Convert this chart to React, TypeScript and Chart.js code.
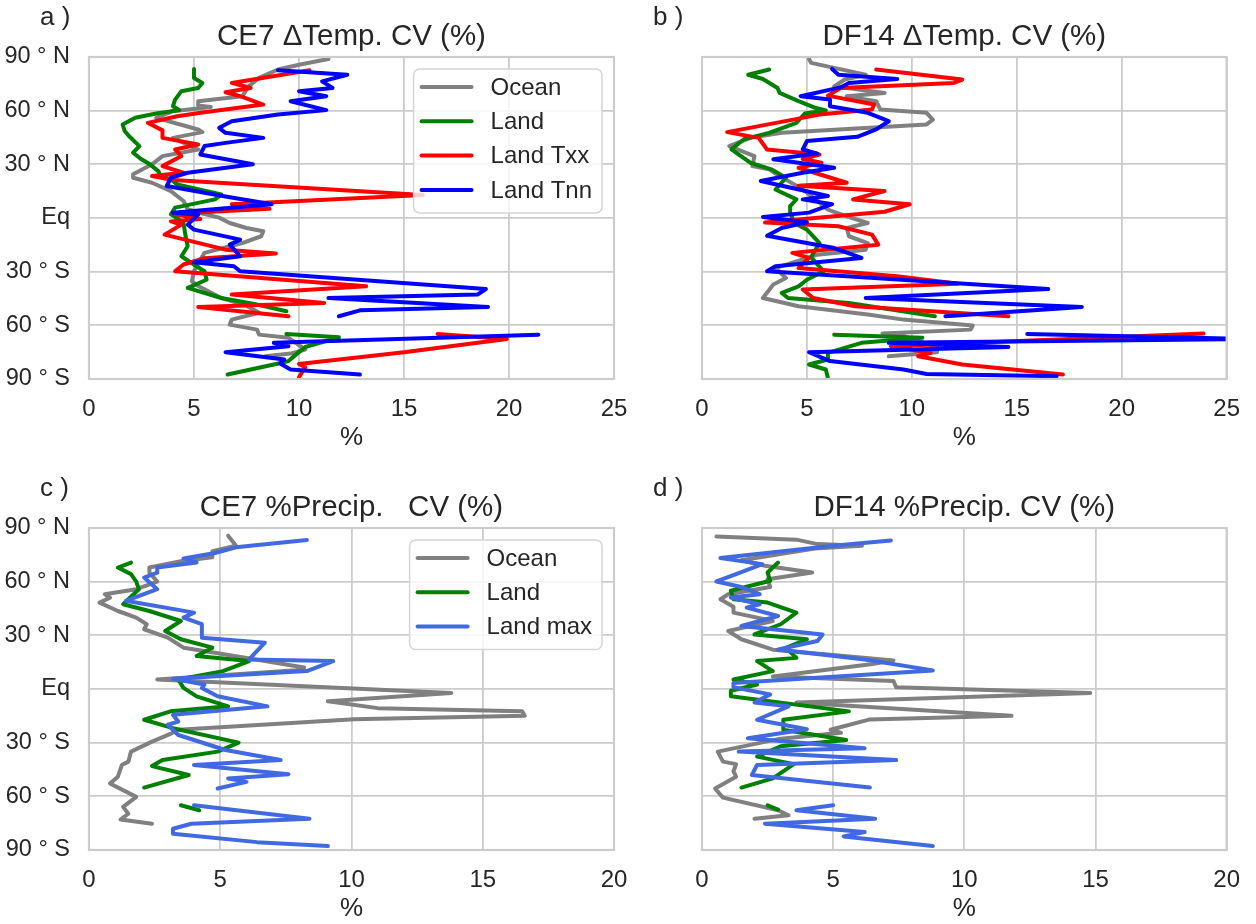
import React, { useEffect, useRef } from "react";
import { Chart, registerables } from "chart.js";
Chart.register(...registerables);

type P = [number, number] | null;

const FONT = '"Liberation Sans", Arial, Helvetica, sans-serif';
const TXT = "#262626";
const GRID = "#cccccc";

const latTicks = [90, 60, 30, 0, -30, -60, -90];
const latLabels = ["90 ° N", "60 ° N", "30 ° N", "Eq", "30 ° S", "60 ° S", "90 ° S"];

const tempNames = ["Ocean", "Land", "Land Txx", "Land Tnn"];
const tempColors = ["#808080", "#008000", "#ff0000", "#0000ff"];
const precipNames = ["Ocean", "Land", "Land max"];
const precipColors = ["#808080", "#008000", "#4169e1"];

// Panel a: CE7 ΔTemp. CV (%)  — [value %, latitude]
const aOcean: P[] = [
  [11.4, 88.9], [10.0, 85.7], [9.0, 83], [8.1, 78.3], [7.6, 73.6], [7.3, 68], [5.2, 65.3], [5.2, 62.9],
  [5.8, 62.1], [4.0, 59.7], [3.2, 56], [5.2, 49.5], [5.4, 48], [4.0, 44.8], [5.2, 38.3], [3.5, 34.6],
  [3.0, 30], [2.1, 24.4], [2.1, 22.5], [3.0, 19.7], [3.9, 15], [4.5, 9.5], [4.7, 4.9], [5.3, 2.8],
  [6.2, 0.2], [6.7, -2.8], [7.5, -5.6], [8.3, -7.4], [8.2, -10.2], [7.3, -14], [5.5, -19.5], [5.3, -23.3],
  [5.0, -29.8], [4.9, -35.4], [5.2, -38], [6.3, -44.7], [7.5, -49], [8.1, -53], [6.8, -56.8], [6.7, -59.6],
  [8.0, -62.4], [8.1, -65.2], [9.5, -67], [10.3, -73.5], [9.6, -75.8], [8.4, -77.3],
];
const aLand: P[] = [
  [5.0, 83.3], [5.0, 78.3], [5.4, 75.5], [5.2, 72.7], [4.4, 70.9], [4.1, 66.2], [4.0, 62.5], [4.3, 60.3],
  [3.2, 58.4], [2.2, 56], [1.6, 52.3], [1.7, 48.6], [1.9, 45.8], [2.4, 40.2], [2.1, 36.5], [2.5, 32.8],
  [2.9, 30], [3.3, 26.2], [3.4, 23.5], [3.9, 21.6], [4.2, 18.8], [6.3, 13.2], [6.0, 10.4], [4.1, 5.8],
  [3.9, 2.1], [4.2, 0], [4.5, -2.8], [4.6, -10.2], [4.7, -15.8], [4.4, -21.4], [5.0, -26.1], [5.5, -29.8],
  [5.6, -34.5], [4.7, -39.1], [6.3, -44.7], [8.0, -48.4], [9.4, -52.1], null,
  [9.4, -64.8], [11.9, -66.7], [10.3, -72.1], [9.95, -75.4], [9.5, -80], [8.8, -81.9], [6.6, -87.5],
];
const aTxx: P[] = [
  [10.5, 82.6], [6.8, 75.5], [7.7, 72.7], [6.5, 70.3], [7.2, 68.1], [8.3, 63.4], [5.4, 59], [4.2, 56.9],
  [2.8, 53.2], [3.5, 49], [3.5, 44.8], [5.2, 41.1], [4.1, 38.3], [4.4, 34.6], [3.5, 29], [4.5, 25.3],
  [3.0, 23.5], [4.0, 21.2], [15.9, 12.9], [6.8, 7.7], [8.6, 5.2], [4.0, 2.4], [5.3, -0.6], [3.9, -1.9],
  [4.4, -3.7], [3.6, -9.3], [6.5, -17.7], [8.9, -19.9], [5.5, -22.5], [4.5, -26], [4.1, -29.8], [13.2, -38.2],
  [6.8, -42.8], [11.2, -47.5], [5.2, -49.7], [9.5, -54.9], null,
  [16.6, -64.8], [19.9, -67.6], [15.0, -75], [10.0, -81.6], [10.3, -83.4], [10.0, -89],
];
const aTnn: P[] = [
  [9.0, 82.6], [12.3, 80.1], [11.1, 76.4], [11.6, 72.7], [10.0, 70.9], [11.3, 68.1], [9.6, 65.3], [11.3, 60.3],
  [9.0, 57.8], [6.8, 54.1], [6.2, 50.4], [6.5, 47.6], [8.3, 44.8], [6.5, 42], [5.5, 40.2], [5.3, 35.5],
  [7.8, 30], [4.7, 25.3], [3.9, 22.5], [3.7, 17.9], [6.5, 12], [8.7, 7.7], [4.0, 3.0], [5.2, 1.9],
  [4.7, -3.7], [5.0, -6.5], [7.2, -12.1], [6.7, -14.9], [7.2, -21.4], [5.0, -24.8], [6.9, -27], [7.2, -29.8],
  [18.9, -39.7], [18.5, -42.8], [11.4, -44.7], [19.0, -49.7], [12.9, -51.6], [11.9, -54.9], null,
  [21.4, -65.2], [8.8, -69.8], [9.5, -71.7], [6.5, -75], [9.3, -79.1], [9.1, -81.4], [9.6, -84.7], [12.9, -87.5],
];

// Panel b: DF14 ΔTemp. CV (%)
const bOcean: P[] = [
  [5.1, 88.9], [5.2, 86.7], [6.3, 83.9], [7.8, 80.1], [6.8, 77.4], [6.3, 73.6], [8.7, 69.9], [6.9, 68],
  [8.3, 65.3], [8.5, 60.6], [10.7, 58.8], [11.0, 55], [10.7, 52.3], [3.8, 47.6], [2.3, 44.8], [1.3, 40.2],
  [2.5, 34.6], [2.4, 29], [3.2, 27.2], [3.7, 23.5], [4.8, 16], [5.6, 8.6], [6.0, 4.7], [7.0, 0.5],
  [7.9, -2.8], [6.9, -5.6], [7.0, -10.2], [7.9, -14], [7.8, -17.7], [5.5, -20.5], [3.5, -28], [4.0, -33.5],
  [3.4, -37.2], [2.9, -44.7], [4.6, -49.3], [7.9, -54], [9.6, -56.8], [12.9, -60.1], [12.8, -62.4], [8.6, -64.6],
  [9.6, -66.1], [11.2, -72], [11.2, -75], [8.9, -77.3],
];
const bLand: P[] = [
  [3.2, 83], [2.2, 80.1], [2.9, 77.7], [3.6, 72.7], [3.7, 69.9], [4.6, 65.3], [5.4, 61.6], [5.9, 60.1],
  [4.9, 58.4], [4.5, 53.2], [3.2, 47.6], [2.0, 44], [1.4, 38.4], [2.3, 30.9], [3.3, 27.2], [4.0, 22.5],
  [3.5, 15.9], [4.5, 10.4], [4.2, 6.7], [4.2, 3], [4.4, -2.8], [5.0, -6.5], [5.6, -14], [5.2, -22],
  [5.8, -29.8], [5.0, -34.5], [4.6, -38.2], [3.8, -41.9], [4.1, -44.7], [7.0, -47.5], [11.1, -54.9], null,
  [6.3, -65.2], [10.5, -67], [7.6, -69.8], [6.0, -75.4], [6.0, -79.1], [5.1, -81.9], [5.9, -84.7], [6.0, -89.4],
];
const bTxx: P[] = [
  [8.3, 83], [12.4, 77.4], [12.0, 75.5], [6.6, 72.7], [6.0, 68.4], [8.2, 63.4], [8.1, 60.6], [5.6, 57.8],
  [1.2, 48], [2.7, 44.8], [3.1, 38.3], [5.6, 35.5], [4.8, 33], [5.7, 30.9], [4.6, 28.1], [6.9, 19.7],
  [4.6, 18], [8.7, 15.1], [7.2, 10.4], [9.9, 7.7], [8.7, 3.5], [3.0, -2.5], [6.5, -4.6], [8.1, -9.3],
  [8.4, -14.9], [4.3, -19.5], [5.1, -22.3], [4.6, -27.9], [9.3, -32.6], [12.2, -36.7], [4.8, -40.0], [5.3, -44.7],
  [7.3, -49.3], [14.6, -54.9], null,
  [23.9, -64.6], [9.0, -71.7], [10.9, -75.4], [10.3, -77.3], [12.4, -81.9], [17.2, -87.5],
];
const bTnn: P[] = [
  [6.2, 83.3], [6.5, 80.1], [9.3, 77.7], [7.0, 75.5], [6.6, 73], [4.7, 68.1], [6.1, 66.2], [6.1, 62.5],
  [7.9, 58.8], [8.9, 54.1], [8.3, 49.5], [7.4, 45.4], [5.0, 43], [4.8, 38.3], [5.5, 36], [3.4, 32.8],
  [6.3, 28.1], [4.8, 25.3], [2.8, 20.7], [6.0, 12.3], [4.8, 10.4], [6.2, 7.7], [5.1, 3], [2.9, 0.6],
  [5.0, -2.4], [3.8, -5.6], [3.1, -9.9], [6.3, -16.8], [7.6, -22.3], [3.5, -27], [3.1, -29.8], [16.5, -39.7],
  [7.8, -44.7], [18.1, -49.7], [11.6, -54.9], null,
  [15.5, -64.8], [26, -67.6], [8.9, -69.8], [14.6, -72.1], [5.1, -75], [6.1, -80], [9.6, -84.7], [10.7, -87.2], [16.9, -88.5],
];

// Panel c: CE7 %Precip. CV (%)
const cOcean: P[] = [
  [5.3, 85.7], [5.6, 80.1], [4.7, 77], [4.7, 73.6], [3.6, 71.7], [2.3, 67.9], [2.3, 65.1], [2.6, 60],
  [1.8, 55.8], [0.6, 53], [0.8, 51], [0.4, 48.3], [1.1, 43.6], [1.8, 39.9], [2.2, 36.2], [2.1, 33.4],
  [3.0, 28.7], [3.6, 23.1], [4.5, 21], [8.2, 12], [7.9, 10.5], [2.6, 5.3], [13.8, -2.2], [9.1, -6.9],
  [11.0, -10.7], [16.5, -12.5], [16.6, -15], [10.1, -16.9], [3.4, -22.8], [3.1, -25.1], [2.4, -29.4], [1.6, -35],
  [1.5, -40.6], [1.25, -42.5], [1.1, -49], [0.8, -52.8], [1.8, -60.3], [1.3, -65.9], [1.5, -69.7], [1.2, -73],
  [2.4, -75.3],
];
const cLand: P[] = [
  [1.6, 70.7], [1.1, 67.9], [1.6, 64.2], [1.8, 60], [1.9, 55.8], [1.3, 47.4], [2.3, 43.6], [3.5, 38],
  [2.9, 32.4], [3.5, 27.8], [4.7, 23.1], [4.1, 18.4], [6.1, 15.6], [5.1, 10], [3.4, 5.3], [3.6, 0.6],
  [4.1, -4.1], [5.3, -9.7], [3.1, -12.5], [2.1, -17.2], [3.2, -21.9], [5.7, -30], [4.9, -35], [2.8, -39.7],
  [2.4, -43.1], [3.8, -48.1], [2.1, -55.1], null,
  [3.5, -65], [4.2, -67.8],
];
const cMax: P[] = [
  [8.3, 83.3], [5.6, 79.2], [4.8, 76], [3.6, 73], [4.1, 70.7], [2.6, 67.9], [2.6, 65], [2.1, 62.3],
  [2.6, 55.8], [1.4, 49.3], [4.0, 42.7], [3.6, 39.9], [4.3, 36.2], [4.3, 28.7], [6.7, 25.9], [6.1, 16.5],
  [9.3, 15.6], [8.3, 10], [3.2, 5.7], [4.4, 2.5], [4.3, 0.6], [4.9, -4.1], [6.8, -9.7], [3.2, -14.4],
  [3.4, -18.2], [3.0, -20], [3.4, -25.7], [5.2, -34.1], [7.3, -39.7], [4.0, -42.5], [7.6, -47.6], [5.3, -50],
  [6.0, -51.9], [4.9, -55.6], null,
  [4.0, -65], [8.4, -72.5], [3.9, -75.3], [3.2, -78.1], [3.2, -80.9], [6.4, -85.6], [9.1, -87.8],
];

// Panel d: DF14 %Precip. CV (%)
const dOcean: P[] = [
  [0.55, 85.3], [3.6, 83.5], [4.4, 81], [6.1, 80.1], [4.3, 78.5], [1.5, 72], [2.4, 68.9], [4.2, 65.1],
  [2.5, 61.4], [2.6, 57], [1.0, 53], [0.7, 50.2], [1.2, 46], [1.2, 42.7], [2.7, 38], [1.0, 32.4],
  [1.5, 27.8], [2.7, 22], [5.0, 19], [7.3, 16], [6.5, 14], [2.7, 7], [7.3, 4.5], [7.4, 1],
  [14.8, -2.2], [3.6, -7.5], [11.8, -15], [6.4, -17], [4.9, -22.8], [5.3, -24.5], [2.9, -28], [0.6, -35],
  [0.8, -40.6], [1.3, -42], [1.2, -46], [1.3, -49], [0.5, -55.6], [0.8, -60.7], [2.9, -67.8], [3.3, -70.6],
  [2.0, -72.5],
];
const dLand: P[] = [
  [2.9, 70.7], [2.5, 65.1], [2.6, 60.5], [1.1, 54.9], [1.2, 50.2], [2.5, 48.3], [3.6, 42.7], [3.0, 36.2],
  [2.0, 30.5], [4.0, 27.8], [3.2, 23], [3.6, 17.4], [2.1, 15.6], [2.7, 10], [1.2, 5.3], [2.1, 2.5],
  [1.1, -1], [1.1, -4.1], [5.6, -12.5], [3.1, -17.2], [3.1, -22.8], [5.5, -28.5], [3.0, -32], [2.1, -37.8],
  [3.5, -42], [2.7, -50], [1.5, -55.1], null,
  [2.5, -65], [2.9, -67.4],
];
const dMax: P[] = [
  [7.2, 83], [5.0, 80.1], [0.7, 73.2], [2.3, 69.8], [1.3, 64.2], [0.55, 60.1], [1.5, 57], [2.2, 53],
  [1.1, 51.1], [2.2, 47.4], [1.7, 45.5], [2.9, 40.8], [1.5, 35.2], [4.6, 30.5], [4.4, 26.8], [2.9, 22.1],
  [6.2, 16.5], [8.8, 10.4], [1.2, 3.4], [1.2, 1], [2.6, -3], [2.0, -7.5], [3.3, -9.7], [2.1, -17.2],
  [4.0, -22.5], [1.75, -27.5], [6.2, -33.1], [1.4, -35], [7.4, -39.7], [2.1, -42.5], [1.9, -48.1], [3.7, -50.9],
  [6.4, -55.1], null,
  [5.0, -65], [3.6, -67.8], [6.6, -72.5], [2.4, -75.3], [6.2, -80], [5.4, -82.4], [8.8, -87.8],
];

type PanelCfg = {
  left: number; top: number; width: number;
  area: { left: number; right: number; top: number; bottom: number };
  xMax: number; title: string; letter: string; yLabels: boolean; legend: boolean;
  series: P[][]; names: string[]; colors: string[];
};

const CH = 462;
const XAXIS_H = 60;

const panels: PanelCfg[] = [
  { left: 0, top: 0, width: 670, area: { left: 89, right: 614, top: 57, bottom: 379 }, xMax: 25, title: "CE7 ΔTemp. CV (%)", letter: "a )", yLabels: true, legend: true, series: [aOcean, aLand, aTxx, aTnn], names: tempNames, colors: tempColors },
  { left: 628, top: 0, width: 628, area: { left: 74, right: 599, top: 57, bottom: 379 }, xMax: 25, title: "DF14 ΔTemp. CV (%)", letter: "b )", yLabels: false, legend: false, series: [bOcean, bLand, bTxx, bTnn], names: tempNames, colors: tempColors },
  { left: 0, top: 462, width: 670, area: { left: 89, right: 614, top: 66, bottom: 388 }, xMax: 20, title: "CE7 %Precip.   CV (%)", letter: "c )", yLabels: true, legend: true, series: [cOcean, cLand, cMax], names: precipNames, colors: precipColors },
  { left: 628, top: 462, width: 628, area: { left: 74, right: 599, top: 66, bottom: 388 }, xMax: 20, title: "DF14 %Precip. CV (%)", letter: "d )", yLabels: false, legend: false, series: [dOcean, dLand, dMax], names: precipNames, colors: precipColors },
];

function segments(data: P[]) {
  const out: { x: number; y: number }[][] = [];
  let cur: { x: number; y: number }[] = [];
  for (const p of data) {
    if (p === null) { if (cur.length) out.push(cur); cur = []; }
    else cur.push({ x: p[0], y: p[1] });
  }
  if (cur.length) out.push(cur);
  return out;
}

function makeDecor(cfg: PanelCfg) {
  return {
    id: "decor",
    afterDatasetsDraw(chart: any) {
      const ctx: CanvasRenderingContext2D = chart.ctx;
      const a = chart.chartArea;
      ctx.save();
      ctx.strokeStyle = GRID;
      ctx.lineWidth = 2.2;
      ctx.strokeRect(a.left, a.top, a.right - a.left, a.bottom - a.top);
      if (cfg.legend) {
        const F = 24;
        ctx.font = `${F}px ${FONT}`;
        const tw = Math.max(...cfg.names.map((n) => ctx.measureText(n).width));
        const right = a.right - 12;
        const w = 77 + tw + 10;
        const left = right - w;
        const top = a.top + 12;
        const rowH = 34.3;
        const bottom = top + 18 + (cfg.names.length - 1) * rowH + 23;
        ctx.beginPath();
        (ctx as any).roundRect(left, top, right - left, bottom - top, 6);
        ctx.fillStyle = "rgba(255,255,255,0.8)";
        ctx.fill();
        ctx.strokeStyle = "#d5d5d5";
        ctx.lineWidth = 1.5;
        ctx.stroke();
        cfg.names.forEach((n, i) => {
          const y = top + 18 + i * rowH;
          ctx.beginPath();
          ctx.moveTo(left + 8, y);
          ctx.lineTo(left + 58, y);
          ctx.strokeStyle = cfg.colors[i];
          ctx.lineWidth = 4;
          ctx.lineCap = "round";
          ctx.stroke();
          ctx.fillStyle = TXT;
          ctx.textAlign = "left";
          ctx.textBaseline = "middle";
          ctx.fillText(n, left + 77, y + 1);
        });
      }
      ctx.restore();
    },
    afterDraw(chart: any) {
      const ctx: CanvasRenderingContext2D = chart.ctx;
      const a = chart.chartArea;
      ctx.save();
      ctx.fillStyle = TXT;
      ctx.textBaseline = "middle";
      ctx.textAlign = "center";
      ctx.font = `29.5px ${FONT}`;
      ctx.fillText(cfg.title, (a.left + a.right) / 2, a.top - 20);
      ctx.font = `26px ${FONT}`;
      ctx.fillText("%", (a.left + a.right) / 2, a.bottom + 59);
      ctx.textAlign = "left";
      ctx.fillText(cfg.letter, a.left - 49, a.top - 39);
      ctx.restore();
    },
  };
}

function Panel({ cfg }: { cfg: PanelCfg }) {
  const ref = useRef<HTMLCanvasElement>(null);
  useEffect(() => {
    const datasets: any[] = [];
    cfg.series.forEach((s, i) => {
      segments(s).forEach((seg) => {
        datasets.push({
          label: cfg.names[i],
          data: seg,
          showLine: true,
          borderColor: cfg.colors[i],
          backgroundColor: cfg.colors[i],
          borderWidth: 4,
          pointRadius: 0,
          pointHoverRadius: 0,
          tension: 0,
          order: 10 - i,
          clip: 0,
          borderJoinStyle: "round",
          borderCapStyle: "round",
        });
      });
    });
    const ar = cfg.area;
    const chart = new Chart(ref.current as HTMLCanvasElement, {
      type: "scatter",
      data: { datasets },
      options: {
        responsive: false,
        animation: false,
        events: [],
        layout: {
          padding: { left: 0, top: ar.top, right: cfg.width - ar.right, bottom: CH - ar.bottom - XAXIS_H },
        },
        plugins: { legend: { display: false }, tooltip: { enabled: false } },
        scales: {
          x: {
            type: "linear",
            min: 0,
            max: cfg.xMax,
            afterFit: (s: any) => { s.height = XAXIS_H; },
            ticks: { stepSize: 5, padding: 16, color: TXT, font: { size: 24, family: FONT }, maxRotation: 0, autoSkip: false },
            grid: { color: GRID, lineWidth: 1.8, drawTicks: false },
            border: { display: false },
          },
          y: {
            type: "linear",
            min: -90,
            max: 90,
            afterFit: (s: any) => { s.width = ar.left; },
            ticks: {
              display: cfg.yLabels,
              stepSize: 30,
              padding: 19,
              color: TXT,
              font: { size: 23.5, family: FONT },
              autoSkip: false,
              callback: (v: any) => {
                const k = latTicks.indexOf(Number(v));
                return k >= 0 ? latLabels[k] : "";
              },
            },
            grid: { color: GRID, lineWidth: 1.8, drawTicks: false },
            border: { display: false },
          },
        },
      } as any,
      plugins: [makeDecor(cfg)],
    });
    return () => chart.destroy();
  }, [cfg]);
  return (
    <canvas
      ref={ref}
      width={cfg.width}
      height={CH}
      style={{ position: "absolute", left: cfg.left, top: cfg.top, width: cfg.width, height: CH }}
    />
  );
}

export default function App() {
  return (
    <div style={{ position: "absolute", left: 0, top: 0, width: 1256, height: 924, background: "#ffffff" }}>
      {panels.map((p) => (
        <Panel key={p.letter} cfg={p} />
      ))}
    </div>
  );
}
